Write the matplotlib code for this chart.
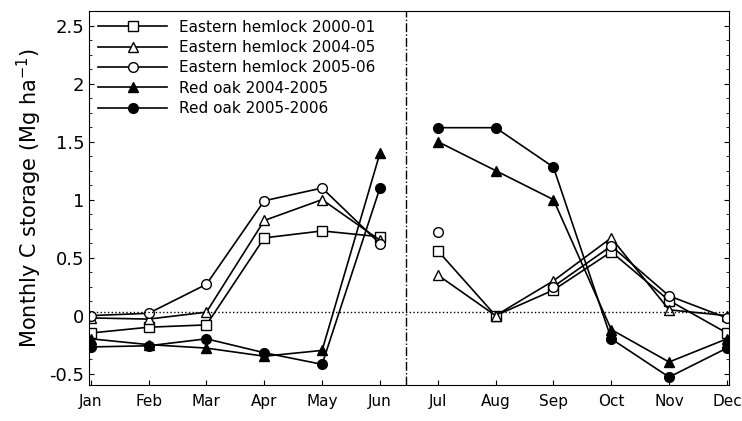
import numpy as np
import matplotlib.pyplot as plt

months = ['Jan', 'Feb', 'Mar', 'Apr', 'May', 'Jun', 'Jul', 'Aug', 'Sep', 'Oct', 'Nov', 'Dec']
nan = np.nan
hem_0001 = [-0.15, -0.10, -0.08, 0.67, 0.73, 0.68, 0.56, 0.0, 0.22, 0.55, 0.13, -0.15]
hem_0405 = [-0.02, -0.03, 0.03, 0.82, 1.00, 0.65, 0.35, 0.0, 0.30, 0.67, 0.05, 0.0]
hem_0506 = [0.0, 0.02, 0.27, 0.99, 1.10, 0.62, 0.72, nan, 0.25, 0.60, 0.17, -0.02]
oak_0405 = [-0.20, -0.25, -0.28, -0.35, -0.30, 1.40, 1.50, 1.25, 1.00, -0.12, -0.40, -0.20]
oak_0506 = [-0.27, -0.26, -0.20, -0.32, -0.42, 1.10, 1.62, 1.62, 1.28, -0.20, -0.53, -0.28]

series = [
    ('Eastern hemlock 2000-01', hem_0001, 's', 'white'),
    ('Eastern hemlock 2004-05', hem_0405, '^', 'white'),
    ('Eastern hemlock 2005-06', hem_0506, 'o', 'white'),
    ('Red oak 2004-2005', oak_0405, '^', 'black'),
    ('Red oak 2005-2006', oak_0506, 'o', 'black'),
]

fig = plt.figure(figsize=(7.42, 4.21), dpi=100)
ax = fig.add_axes([0.12, 0.085, 0.862, 0.89])
x = np.arange(1, 13)
for label, y, m, fc in series:
    y = np.array(y, dtype=float)
    kw = dict(color='black', marker=m, mfc=fc, mec='black', ms=7, lw=1.2)
    ax.plot(x[:6], y[:6], label=label, **kw)
    ax.plot(x[6:], y[6:], **kw)

ax.axhline(0.03, color='black', ls=':', lw=1)
ax.axvline(6.45, color='black', ls='-.', lw=1)
ax.set_xlim(0.97, 12.03)
ax.set_ylim(-0.6, 2.63)
ax.set_xticks(x)
ax.set_xticklabels(months, fontsize=11)
ax.set_yticks([-0.5, 0, 0.5, 1, 1.5, 2, 2.5])
ax.set_yticklabels(['-0.5', '0', '0.5', '1', '1.5', '2', '2.5'], fontsize=13)
ax.set_yticks(np.arange(-0.5, 2.6, 0.125), minor=True)
ax.tick_params(which='both', direction='in', right=True)
ax.tick_params(axis='x', pad=6)
ax.set_ylabel('Monthly C storage (Mg ha$^{-1}$)', fontsize=15)
ax.legend(loc='upper left', frameon=False, handlelength=4.5, fontsize=11,
          labelspacing=0.35, borderaxespad=0.2)
fig.savefig('out.png')
